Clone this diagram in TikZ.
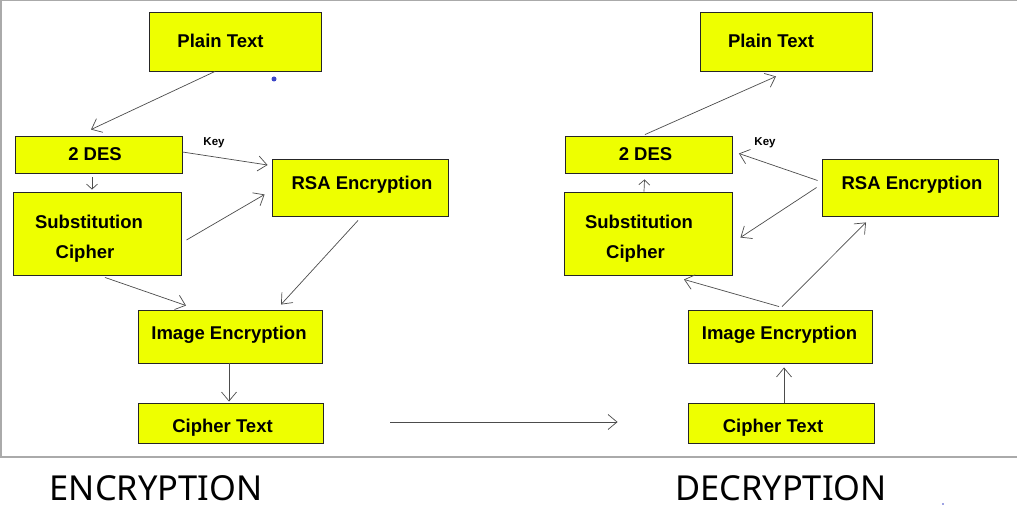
\documentclass[tikz,border=0pt]{standalone}
\usepackage{fontspec}
\setmainfont{Liberation Sans}
\newfontfamily\capfont{Noto Sans}
\usetikzlibrary{arrows.meta,calc}
\definecolor{boxyellow}{RGB}{238,255,0}
\definecolor{framegray}{RGB}{170,170,170}
\definecolor{dotblue}{RGB}{60,70,200}
\begin{document}
\begin{tikzpicture}[x=1pt,y=-1pt,
 box/.style={draw=black!85, line width=0.9pt, fill=boxyellow, inner sep=0pt},
 txt/.style={font=\fontsize{18.5}{22}\selectfont\bfseries, inner sep=0pt, anchor=base},
 keylab/.style={font=\fontsize{11.5}{13}\selectfont\bfseries, inner sep=0pt, anchor=base},
 title/.style={font=\capfont\fontsize{34.4}{40}\selectfont, inner sep=0pt, anchor=base},
 conn/.style={draw=black!70, line width=0.7pt, -{Straight Barb[length=9pt,width=15pt]}},
 shortconn/.style={draw=black!70, line width=0.7pt, -{Straight Barb[length=5pt,width=11pt]}}]
\useasboundingbox (0,0) rectangle (1017,510);
\fill[white] (0,0) rectangle (1017,510);
% frame
\draw[framegray, line width=1.5pt] (1017,0.75) -- (0.75,0.75) -- (0.75,457) -- (1017,457);

% left (encryption) boxes
\node[box, minimum width=172pt, minimum height=59pt] (pt1) at (235,41.5) {};
\node[box, minimum width=167pt, minimum height=37pt] (des1) at (98.5,154.5) {};
\node[box, minimum width=168pt, minimum height=83pt] (sub1) at (97,233.5) {};
\node[box, minimum width=176pt, minimum height=57pt] (rsa1) at (360,187.5) {};
\node[box, minimum width=184pt, minimum height=53pt] (img1) at (230,336.5) {};
\node[box, minimum width=185pt, minimum height=40pt] (ct1) at (230.5,423) {};
% right (decryption) boxes
\node[box, minimum width=172pt, minimum height=59pt] (pt2) at (786,41.5) {};
\node[box, minimum width=167pt, minimum height=37pt] (des2) at (648.5,154.5) {};
\node[box, minimum width=168pt, minimum height=83pt] (sub2) at (648,233.5) {};
\node[box, minimum width=176pt, minimum height=57pt] (rsa2) at (910,187.5) {};
\node[box, minimum width=184pt, minimum height=53pt] (img2) at (780,336.5) {};
\node[box, minimum width=186pt, minimum height=40pt] (ct2) at (781,423) {};

% texts left
\node[txt] (pt1t) at (220.5,47.7) {Plain Text};
\node[txt] (des1t) at (95,161) {2 DES};
\node[txt] (sub1a) at (89,228.3) {Substitution};
\node[txt] (sub1b) at (85,259) {Cipher};
\node[txt] (rsa1t) at (362,190) {RSA Encryption};
\node[txt] (img1t) at (229,339.5) {Image Encryption};
\node[txt] (ct1t) at (222.5,432.7) {Cipher Text};
\node[keylab] (key1) at (214,145.5) {Key};
% texts right
\node[txt] (pt2t) at (771,47.7) {Plain Text};
\node[txt] (des2t) at (645.5,161) {2 DES};
\node[txt] (sub2a) at (639,228.3) {Substitution};
\node[txt] (sub2b) at (635.5,259) {Cipher};
\node[txt] (rsa2t) at (912,190) {RSA Encryption};
\node[txt] (img2t) at (779.5,339.5) {Image Encryption};
\node[txt] (ct2t) at (773,432.7) {Cipher Text};
\node[keylab] (key2) at (765,145.5) {Key};

% titles
\node[title] (enc) at (156,500) {ENCRYPTION};
\node[title] (dec) at (781,500) {DECRYPTION};

% connectors left
\draw[conn] ($(pt1.south)+(-20,0)$) -- ($(des1.north)+(-7.5,-6)$);
\draw[conn] ($(des1.east)+(0,-2.5)$) -- ($(rsa1.west)+(-4,-22.5)$);
\draw[shortconn] ($(des1.south)+(-6.5,4)$) -- ($(sub1.north)+(-5,-2)$);
\draw[conn] ($(sub1.east)+(5,6.5)$) -- ($(rsa1.west)+(-7,7)$);
\draw[conn] ($(sub1.south)+(8,2)$) -- ($(img1.north)+(-44,-4)$);
\draw[conn] ($(rsa1.south)+(-2,4)$) -- ($(img1.north)+(51,-5)$);
\draw[conn] ($(img1.south)+(-1,0)$) -- ($(ct1.north)+(-1.5,-1)$);
% between the halves
\draw[conn] ($(ct1.east)+(67,-1)$) -- ($(ct2.west)+(-70,-1)$);
% connectors right
\draw[conn] ($(des2.north)+(-3.5,-1)$) -- ($(pt2.south)+(-10,5)$);
\draw[conn] ($(rsa2.west)+(-4,-7)$) -- ($(des2.east)+(6.5,-1)$);
\draw[conn] ($(rsa2.west)+(-5,0)$) -- ($(sub2.east)+(8,4)$);
\draw[conn] ($(img2.north)+(-1,-3)$) -- ($(sub2.south)+(36,4)$);
\draw[conn] ($(img2.north)+(2,-3)$) -- ($(rsa2.south)+(-44,6)$);
\draw[conn] ($(ct2.north)+(3,0)$) -- ($(img2.south)+(4,4)$);
\draw[shortconn] ($(sub2.north)+(-4,0)$) -- ($(des2.south)+(-4,6)$);

% stray dots
\fill[dotblue] (274,79) circle (2.5pt);
\fill[dotblue] (943,504) circle (0.8pt);
\end{tikzpicture}
\end{document}
